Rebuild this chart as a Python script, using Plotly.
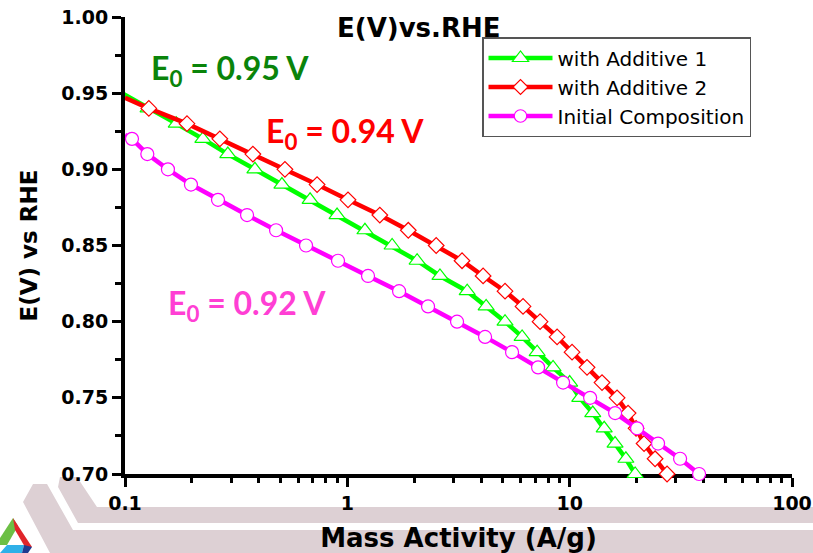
import plotly.graph_objects as go

# ---------------- data ----------------
add1_x = [0.097, 0.127, 0.170, 0.224, 0.290, 0.384, 0.508, 0.680, 0.899, 1.20, 1.59, 2.06, 2.61,
          3.46, 4.21, 5.12, 6.11, 7.14, 8.42, 10.0, 11.1, 12.7, 14.3, 16.0, 17.9, 19.7]
add1_E = [0.95, 0.94, 0.93, 0.92, 0.91, 0.90, 0.89, 0.88, 0.87, 0.86, 0.85, 0.84, 0.83,
          0.82, 0.81, 0.80, 0.79, 0.78, 0.77, 0.76, 0.75, 0.74, 0.73, 0.72, 0.71, 0.70]

add2_x = [0.100, 0.128, 0.190, 0.267, 0.376, 0.524, 0.731, 1.007, 1.40, 1.88, 2.51, 3.28, 4.08,
          5.12, 6.17, 7.36, 8.78, 10.25, 11.97, 13.98, 16.34, 18.31, 19.89, 21.61, 24.22, 27.42]
add2_E = [0.947, 0.94, 0.93, 0.92, 0.91, 0.90, 0.89, 0.88, 0.87, 0.86, 0.85, 0.84, 0.83,
          0.82, 0.81, 0.80, 0.79, 0.78, 0.77, 0.76, 0.75, 0.74, 0.73, 0.72, 0.71, 0.70]

init_x = [0.100, 0.1075, 0.126, 0.156, 0.198, 0.262, 0.354, 0.478, 0.652, 0.908, 1.239, 1.709,
          2.307, 3.115, 4.164, 5.507, 7.21, 9.34, 12.36, 16.01, 20.10, 24.98, 31.38, 38.2]
init_E = [0.9225, 0.92, 0.91, 0.90, 0.89, 0.88, 0.87, 0.86, 0.85, 0.84, 0.83, 0.82,
          0.81, 0.80, 0.79, 0.78, 0.77, 0.76, 0.75, 0.74, 0.73, 0.72, 0.71, 0.70]

series_names = ["with Additive 1", "with Additive 2", "Initial Composition"]
x_tickvals = [0.1, 1, 10, 100]
x_ticktext = ["0.1", "1", "10", "100"]
y_tickvals = [0.70, 0.75, 0.80, 0.85, 0.90, 0.95, 1.00]
e0_labels = ["E<sub>0</sub> = 0.95 V", "E<sub>0</sub> = 0.94 V", "E<sub>0</sub> = 0.92 V"]

# ---------------- layout geometry (pixels) ----------------
W, H = 813, 553
L, R, T, B = 125, 21, 17, 79
PW, PH = W - L - R, H - T - B


def px(xp, yp):
    return (xp - L) / PW, (H - B - yp) / PH


def path(points):
    s = ""
    for i, (a, b) in enumerate(points):
        u, v = px(a, b)
        s += ("M" if i == 0 else "L") + f"{u:.4f},{v:.4f} "
    return s + "Z"


fig = go.Figure()

fig.add_trace(go.Scatter(
    x=add1_x, y=add1_E, name=series_names[0], mode="lines+markers",
    line=dict(color="#00ff00", width=4.5),
    marker=dict(symbol="triangle-up", size=14, color="white", opacity=1,
                line=dict(color="#00ff00", width=1.2)),
    cliponaxis=False))
fig.add_trace(go.Scatter(
    x=add2_x, y=add2_E, name=series_names[1], mode="lines+markers",
    line=dict(color="#ff0000", width=4.5),
    marker=dict(symbol="diamond", size=[0] + [12] * (len(add2_x) - 1), color="white", opacity=1,
                line=dict(color="#ff0000", width=1.2)),
    cliponaxis=False))
fig.add_trace(go.Scatter(
    x=init_x, y=init_E, name=series_names[2], mode="lines+markers",
    line=dict(color="#ff00ff", width=4.5),
    marker=dict(symbol="circle", size=[0] + [13] * (len(init_x) - 1), color="white", opacity=1,
                line=dict(color="#ff00ff", width=1.2)),
    cliponaxis=False))

band = "#ddd0d4"
shapes = [
    dict(type="path", xref="paper", yref="paper", layer="below", line=dict(width=0), fillcolor=band,
         path=path([(60, 477), (77, 477), (97, 507), (813, 507), (813, 523), (78, 523), (58, 487)])),
    dict(type="path", xref="paper", yref="paper", layer="below", line=dict(width=0), fillcolor=band,
         path=path([(33, 484), (47, 484), (73, 530), (813, 530), (813, 553), (50, 553), (23, 502)])),
    # logo
    dict(type="path", xref="paper", yref="paper", layer="below", line=dict(width=0), fillcolor="#6cbf45",
         path=path([(13, 518), (18, 526), (7, 545), (0, 545), (0, 538)])),
    dict(type="path", xref="paper", yref="paper", layer="below", line=dict(width=0), fillcolor="#e0252a",
         path=path([(13, 518), (32, 547), (25, 547), (15, 530)])),
    dict(type="path", xref="paper", yref="paper", layer="below", line=dict(width=0), fillcolor="#2fb0e8",
         path=path([(7, 545), (0, 553), (22, 553), (24, 545)])),
    dict(type="path", xref="paper", yref="paper", layer="below", line=dict(width=0), fillcolor="#213a8f",
         path=path([(24, 545), (32, 547), (28, 553), (22, 553)])),
]

annos = []
tx, ty = px(419, 28)
annos.append(dict(text="E(V)vs.RHE", x=tx, y=ty, xref="paper", yref="paper", showarrow=False,
                  xanchor="center", yanchor="middle",
                  font=dict(family="DejaVu Sans", size=26, color="black", weight="bold")))
e0_pos = [(149, 70), (264, 133), (166, 305)]
e0_col = ["#0a840a", "#ff0000", "#ff3fd4"]
for lab, (a, b), c in zip(e0_labels, e0_pos, e0_col):
    u, v = px(a, b)
    annos.append(dict(text=lab, x=u, y=v, xref="paper", yref="paper", showarrow=False,
                      xanchor="left", yanchor="middle",
                      font=dict(family="Lato", size=32, color=c, weight="bold")))

lx, ly = px(482, 37)
fig.update_layout(
    width=W, height=H,
    margin=dict(l=L, r=R, t=T, b=B, pad=0, autoexpand=False),
    paper_bgcolor="white", plot_bgcolor="white",
    showlegend=True,
    legend=dict(x=lx, y=ly, xanchor="left", yanchor="top", bgcolor="white",
                bordercolor="#555555", borderwidth=1.5, itemwidth=64,
                font=dict(family="DejaVu Sans", size=20, color="black"),
                tracegroupgap=0, itemsizing="trace"),
    shapes=shapes,
    annotations=annos,
    xaxis=dict(type="log", range=[-1, 2], tickmode="array", tickvals=x_tickvals, ticktext=x_ticktext,
               automargin=False,
               showgrid=False, zeroline=False, showline=True, linecolor="black", linewidth=4,
               ticks="outside", ticklen=9, tickwidth=3, tickcolor="black",
               minor=dict(tickmode="array",
                          tickvals=[m * d for d in (0.1, 1, 10) for m in range(2, 10)],
                          ticks="outside", ticklen=5, tickwidth=3, tickcolor="black"),
               tickfont=dict(family="DejaVu Sans", size=19, color="black", weight="bold"),
               title=dict(text="Mass Activity (A/g)", standoff=17,
                          font=dict(family="DejaVu Sans", size=26, color="black", weight="bold")),
               layer="below traces"),
    yaxis=dict(range=[0.70, 1.00], tickmode="array", tickvals=y_tickvals, tickformat=".2f",
               automargin=False,
               showgrid=False, zeroline=False, showline=True, linecolor="black", linewidth=4,
               ticks="outside", ticklen=9, tickwidth=3, tickcolor="black",
               minor=dict(dtick=0.025, tick0=0.70, ticks="outside", ticklen=6, tickwidth=3,
                          tickcolor="black"),
               tickfont=dict(family="DejaVu Sans", size=19, color="black", weight="bold"),
               title=dict(text="E(V) vs RHE", standoff=18,
                          font=dict(family="DejaVu Sans", size=23, color="black", weight="bold")),
               layer="below traces"),
)

fig.write_html("out.html")
